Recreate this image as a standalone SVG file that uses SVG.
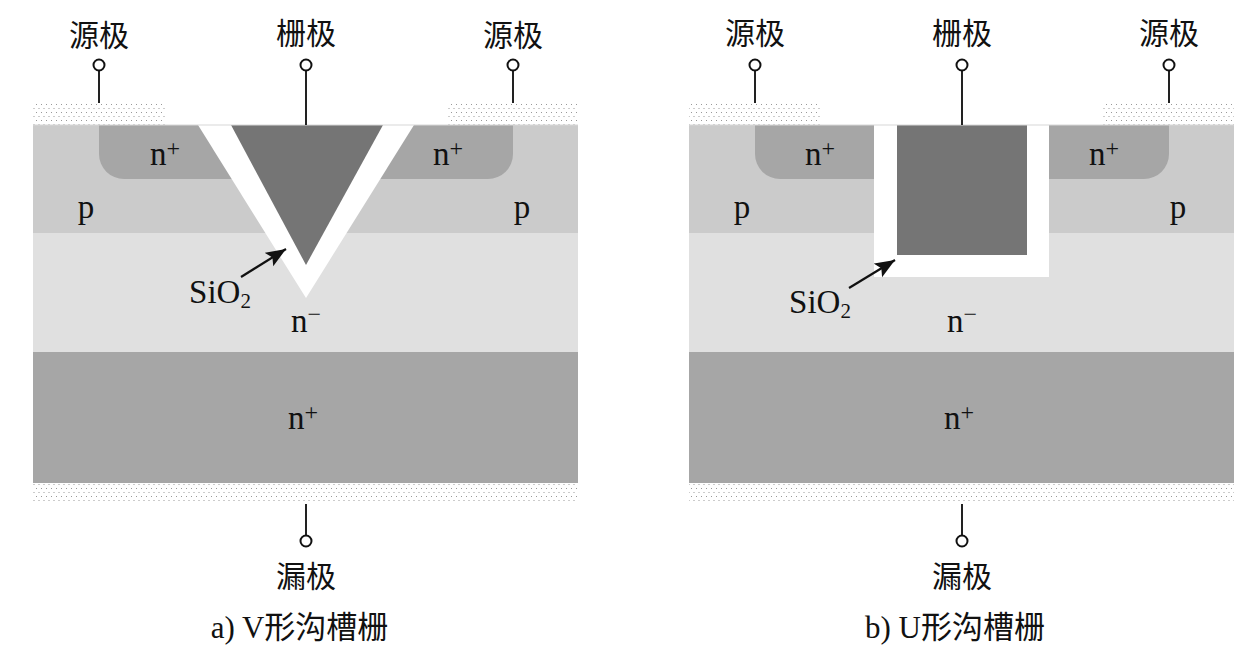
<svg xmlns="http://www.w3.org/2000/svg" width="1254" height="649" viewBox="0 0 1254 649">
<style>
text{font-family:"Liberation Serif","Noto Sans CJK SC",serif;fill:#111;font-size:33px;text-anchor:middle}
.sup{font-size:24px}
.sub{font-size:21px}
.cj{font-size:30px}
.cap{font-size:31px}
.wire{stroke:#222;stroke-width:2;fill:none}
.term{stroke:#111;stroke-width:2;fill:#fff}
.arrow{stroke:#111;stroke-width:2.2;fill:none;marker-end:url(#ah)}
.p{fill:#cbcbcb}.nm{fill:#e0e0e0}.np{fill:#a6a6a6}.gate{fill:#757575}.ox{fill:#fff}.metal{fill:url(#dots)}
</style>
<defs>
<pattern id="dots" width="10" height="8" patternUnits="userSpaceOnUse">
<rect width="10" height="8" fill="#fff"/>
<rect x="1" y="0" width="1" height="1" fill="#999"/><rect x="6" y="0" width="1" height="1" fill="#999"/>
<rect x="3.500" y="4" width="1" height="1" fill="#999"/><rect x="8.500" y="4" width="1" height="1" fill="#999"/>
</pattern>
<marker id="ah" markerUnits="userSpaceOnUse" markerWidth="22" markerHeight="18" refX="20" refY="8" orient="auto">
<path d="M0 0L20 8L0 16L4 8Z" fill="#111"/>
</marker>
</defs>
<rect width="1254" height="649" fill="#fff"/>

<g id="device-a">
<rect class="metal" x="33" y="103" width="132" height="22"/>
<rect class="metal" x="447" y="103" width="131" height="22"/>
<rect class="metal" x="33" y="483" width="545" height="21"/>
<rect class="p" x="33" y="125" width="545" height="108"/>
<rect class="nm" x="33" y="233" width="545" height="119"/>
<rect class="np" x="33" y="352" width="545" height="131"/>
<path class="np" d="M99 125V154A25 25 0 0 0 124 179H260V125Z"/>
<path class="np" d="M513 125V154A25 25 0 0 1 488 179H350V125Z"/>
<path class="ox" d="M198 125H414L306 298Z"/>
<path class="gate" d="M231 125H383L306 265Z"/>
<rect x="33" y="124.500" width="545" height="1" fill="#d8d8d8"/>
</g>

<g id="device-b">
<rect class="metal" x="689" y="103" width="132" height="22"/>
<rect class="metal" x="1103" y="103" width="131" height="22"/>
<rect class="metal" x="689" y="483" width="545" height="21"/>
<rect class="p" x="689" y="125" width="545" height="108"/>
<rect class="nm" x="689" y="233" width="545" height="119"/>
<rect class="np" x="689" y="352" width="545" height="131"/>
<path class="np" d="M755 125V154A25 25 0 0 0 780 179H900V125Z"/>
<path class="np" d="M1169 125V154A25 25 0 0 1 1144 179H1020V125Z"/>
<rect class="ox" x="874" y="125" width="175" height="152"/>
<rect class="gate" x="897" y="125" width="130" height="130"/>
<rect x="689" y="124.500" width="545" height="1" fill="#d8d8d8"/>
</g>

<g id="connectors">
<path class="wire" d="M99 70V103M306 70V125M513 70V103M306 504V536"/>
<path class="wire" d="M755 70V103M962 70V125M1169 70V103M962 504V536"/>
<path class="arrow" d="M241 277L286 249"/>
<path class="arrow" d="M849 288L895 260"/>
</g>

<g id="t-a-source-l"><circle class="term" cx="99" cy="65" r="5.500"/><text class="cj" x="99" y="46">源极</text></g>
<g id="t-a-gate"><circle class="term" cx="306" cy="65" r="5.500"/><text class="cj" x="306" y="44">栅极</text></g>
<g id="t-a-source-r"><circle class="term" cx="513" cy="65" r="5.500"/><text class="cj" x="513" y="46">源极</text></g>
<g id="t-a-drain"><circle class="term" cx="306" cy="541" r="5.500"/><text class="cj" x="306" y="587">漏极</text></g>
<g id="t-b-source-l"><circle class="term" cx="755" cy="65" r="5.500"/><text class="cj" x="755" y="44">源极</text></g>
<g id="t-b-gate"><circle class="term" cx="962" cy="65" r="5.500"/><text class="cj" x="962" y="44">栅极</text></g>
<g id="t-b-source-r"><circle class="term" cx="1169" cy="65" r="5.500"/><text class="cj" x="1169" y="44">源极</text></g>
<g id="t-b-drain"><circle class="term" cx="962" cy="541" r="5.500"/><text class="cj" x="962" y="587">漏极</text></g>

<g id="labels-a">
<text x="165" y="165">n<tspan class="sup" dy="-9">+</tspan></text>
<text x="448" y="165">n<tspan class="sup" dy="-9">+</tspan></text>
<text x="86" y="218">p</text>
<text x="522" y="218">p</text>
<text x="220" y="303">SiO<tspan class="sub" dy="5">2</tspan></text>
<text x="306" y="332">n<tspan class="sup" dy="-10">−</tspan></text>
<text x="303" y="429">n<tspan class="sup" dy="-9">+</tspan></text>
<text x="299.500" y="638" class="cap">a) V形沟槽栅</text>
</g>
<g id="labels-b">
<text x="820" y="165">n<tspan class="sup" dy="-9">+</tspan></text>
<text x="1104" y="165">n<tspan class="sup" dy="-9">+</tspan></text>
<text x="742" y="218">p</text>
<text x="1178" y="218">p</text>
<text x="820" y="313">SiO<tspan class="sub" dy="5">2</tspan></text>
<text x="962" y="332">n<tspan class="sup" dy="-10">−</tspan></text>
<text x="959" y="429">n<tspan class="sup" dy="-9">+</tspan></text>
<text x="955" y="638" class="cap">b) U形沟槽栅</text>
</g>
</svg>
